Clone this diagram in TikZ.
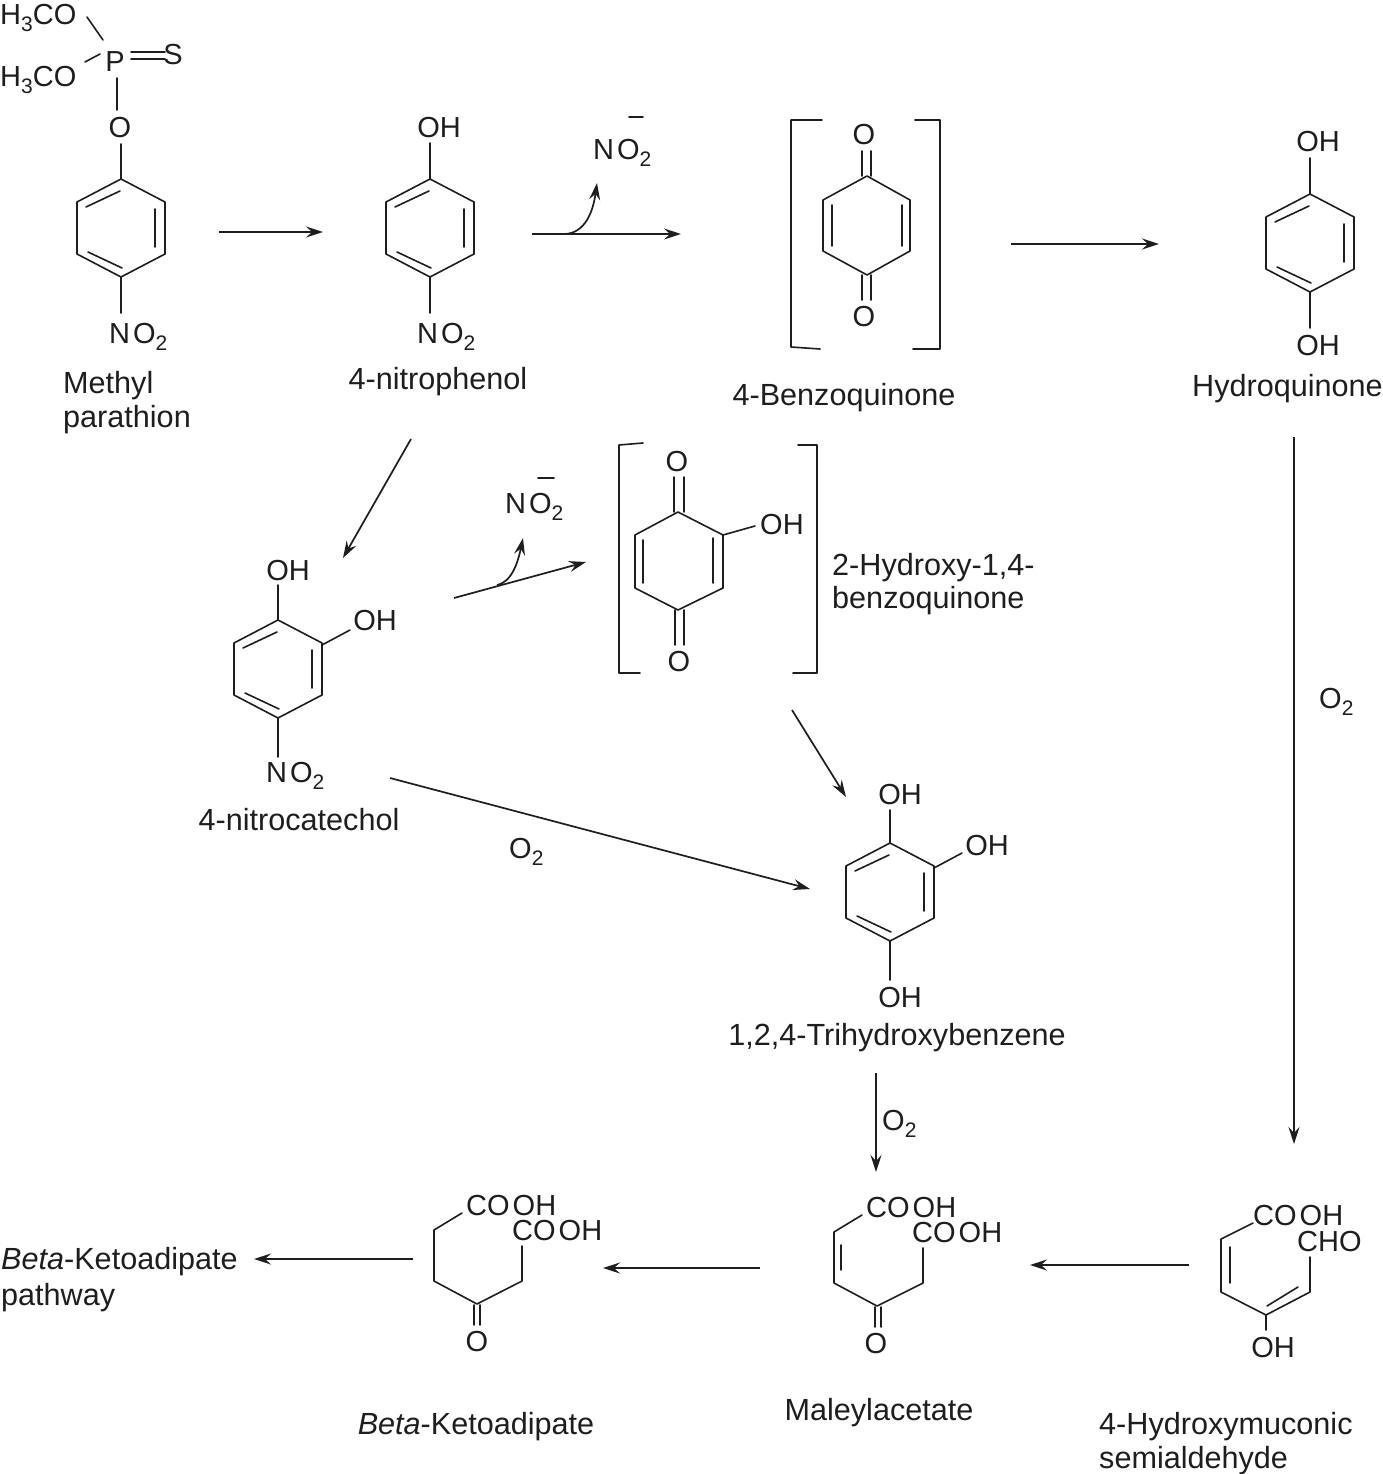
\documentclass[tikz,border=0pt]{standalone}
\usepackage{fontspec}
\setmainfont{Liberation Sans}
\usetikzlibrary{arrows.meta}
\definecolor{ink}{HTML}{1E1E1E}
\newcommand{\subtwo}[1]{\raisebox{-7pt}{\fontsize{21}{21}\selectfont #1}}
\newcommand{\cooh}{CO\kern3pt OH}
\tikzset{
  bond/.style={draw=ink,line width=1.6pt,line cap=round,line join=round},
  rxn/.style={draw=ink,line width=1.7pt,-{Stealth[length=17pt,width=11pt,inset=6pt]}},
  lbl/.style={inner sep=0pt,text=ink,font=\fontsize{29}{29}\selectfont,anchor=base west},
  lblc/.style={lbl,anchor=base},
  cname/.style={lbl,font=\fontsize{30.6}{30.6}\selectfont},
  cnamec/.style={cname,anchor=base},
  benzene/.pic={
    \draw[bond] (0,-49)--(44,-26)--(44,26)--(0,49)--(-44,26)--(-44,-26)--cycle;
    \draw[bond] (-35,-21)--(-1,-37);
    \draw[bond] (34,-19)--(34,19);
    \draw[bond] (-33,24)--(1,40);
  }
}
\begin{document}
\begin{tikzpicture}[x=1pt,y=-1pt]
\useasboundingbox (0,0) rectangle (1382,1474);
\fill[white] (0,0) rectangle (1382,1474);

% --- Methyl parathion
\node[lbl] (mpa) at (0,25) {H\subtwo{3}CO};
\node[lbl] (mpb) at (0,87) {H\subtwo{3}CO};
\node[lblc] (mpP) at (115,72) {P};
\node[lblc] (mpS) at (173,65) {S};
\node[lblc] (mpO) at (120,138) {O};
\draw[bond] (87,17)--(103,40);
\draw[bond] (85,62)--(100,54);
\draw[bond] (131,52)--(165,52);
\draw[bond] (131,59)--(165,59);
\draw[bond] (117,78)--(117,110);
\draw[bond] (121,144)--(121,179);
\pic at (121,228) {benzene};
\draw[bond] (121,277)--(121,313);
\node[lbl] (mpN) at (109,343) {N\kern3pt O\subtwo{2}};
\node[cname] (mpl1) at (63,393) {Methyl};
\node[cname] (mpl2) at (63,427) {parathion};

% --- 4-nitrophenol
\node[lblc] (npOH) at (439,138) {OH};
\draw[bond] (430,143)--(430,179);
\pic at (430,228) {benzene};
\draw[bond] (430,277)--(430,313);
\node[lbl] (npN) at (417,343) {N\kern3pt O\subtwo{2}};
\node[cnamec] (npl) at (438,389) {4-nitrophenol};

% --- nitrite 1
\node[lbl] (no1) at (593,160) {N\kern3pt O\subtwo{2}};
\draw[bond] (629,117)--(643,117);

% --- 4-benzoquinone
\draw[bond] (822,120)--(791,120)--(791,347)--(820,349);
\draw[bond] (915,120)--(940,120)--(940,349)--(913,349);
\node[lblc] (bqO1) at (864,145) {O};
\node[lblc] (bqO2) at (864,326) {O};
\draw[bond] (862,151)--(862,176);
\draw[bond] (871,151)--(871,176);
\draw[bond] (862,275)--(862,300);
\draw[bond] (871,275)--(871,300);
\draw[bond] (867,176)--(910,200)--(910,251)--(867,275)--(823,251)--(823,200)--cycle;
\draw[bond] (832,205)--(832,246);
\draw[bond] (902,205)--(902,246);
\node[cnamec] (bql) at (844,405) {4-Benzoquinone};

% --- hydroquinone
\node[lblc] (hqO1) at (1318,152) {OH};
\draw[bond] (1310,158)--(1310,194);
\pic at (1310,243) {benzene};
\draw[bond] (1310,292)--(1310,328);
\node[lblc] (hqO2) at (1318,355) {OH};
\node[cname] (hql) at (1192,396) {Hydroquinone};

% --- nitrite 2
\node[lbl] (no2) at (505,513) {N\kern3pt O\subtwo{2}};
\draw[bond] (538,478)--(554,478);

% --- 2-hydroxy-1,4-benzoquinone
\draw[bond] (643,443)--(619,445)--(619,673)--(640,673);
\draw[bond] (798,445)--(817,445)--(817,673)--(793,673);
\node[lblc] (hbO1) at (677,471) {O};
\node[lblc] (hbO2) at (679,671) {O};
\draw[bond] (674,477)--(674,512);
\draw[bond] (684,477)--(684,512);
\draw[bond] (675,610)--(675,645);
\draw[bond] (684,610)--(684,645);
\draw[bond] (678,512)--(723,535)--(723,588)--(678,610)--(635,588)--(635,535)--cycle;
\draw[bond] (643,540)--(643,583);
\draw[bond] (713,538)--(713,583);
\draw[bond] (723,535)--(755,526);
\node[lbl] (hbOH) at (760,534) {OH};
\node[cname] (hbl1) at (832,575) {2-Hydroxy-1,4-};
\node[cname] (hbl2) at (832,608) {benzoquinone};

% --- 4-nitrocatechol
\node[lblc] (ncO1) at (288,580) {OH};
\draw[bond] (278,585)--(278,620);
\pic at (278,669) {benzene};
\draw[bond] (322,645)--(350,630);
\node[lblc] (ncO2) at (375,630) {OH};
\draw[bond] (278,718)--(278,757);
\node[lbl] (ncN) at (266,782) {N\kern3pt O\subtwo{2}};
\node[cnamec] (ncl) at (299,830) {4-nitrocatechol};

% --- 1,2,4-trihydroxybenzene
\node[lblc] (thO1) at (900,804) {OH};
\draw[bond] (890,810)--(890,843);
\pic at (890,892) {benzene};
\draw[bond] (934,868)--(962,853);
\node[lblc] (thO2) at (987,855) {OH};
\draw[bond] (890,941)--(890,980);
\node[lblc] (thO3) at (900,1007) {OH};
\node[cnamec] (thl) at (897,1045) {1,2,4-Trihydroxybenzene};

% --- 4-hydroxymuconic semialdehyde
\node[lbl] (hmC) at (1253,1225) {\cooh};
\node[lbl] (hmF) at (1297,1251) {CHO};
\node[lblc] (hmO) at (1273,1357) {OH};
\draw[bond] (1253,1223)--(1221,1239)--(1221,1292)--(1266,1315)--(1310,1292)--(1310,1257);
\draw[bond] (1230,1247)--(1230,1283);
\draw[bond] (1267,1306)--(1298,1287);
\draw[bond] (1266,1315)--(1266,1330);
\node[cname] (hml1) at (1099,1434) {4-Hydroxymuconic};
\node[cname] (hml2) at (1099,1468) {semialdehyde};

% --- maleylacetate
\node[lbl] (maC1) at (866,1217) {\cooh};
\node[lbl] (maC2) at (912,1242) {\cooh};
\node[lblc] (maO) at (876,1353) {O};
\draw[bond] (862,1215)--(834,1232)--(834,1283)--(877,1306)--(923,1283)--(923,1248);
\draw[bond] (841,1245)--(841,1270);
\draw[bond] (875,1307)--(875,1327);
\draw[bond] (881,1307)--(881,1327);
\node[cnamec] (mal) at (879,1420) {Maleylacetate};

% --- beta-ketoadipate
\node[lbl] (bkC1) at (466,1215) {\cooh};
\node[lbl] (bkC2) at (512,1240) {\cooh};
\node[lblc] (bkO) at (477,1351) {O};
\draw[bond] (462,1213)--(434,1230)--(434,1281)--(477,1304)--(522,1281)--(522,1246);
\draw[bond] (474,1305)--(474,1325);
\draw[bond] (480,1305)--(480,1325);
\node[cnamec] (bkl) at (476,1434) {\textit{Beta}-Ketoadipate};

% --- pathway
\node[cname] (pw1) at (1,1269) {\textit{Beta}-Ketoadipate};
\node[cname] (pw2) at (1,1305) {pathway};

% --- reagent labels
\node[lbl] (ox1) at (1319,708) {O\subtwo{2}};
\node[lbl] (ox2) at (509,858) {O\subtwo{2}};
\node[lbl] (ox3) at (882,1130) {O\subtwo{2}};

% --- reaction arrows
\coordinate (a1s) at (219,232);  \coordinate (a1e) at (323,232);
\coordinate (a2s) at (532,234);  \coordinate (a2e) at (681,234);
\coordinate (a2b) at (565,234);  \coordinate (a2f) at (597,183);
\coordinate (a3s) at (1011,244); \coordinate (a3e) at (1159,244);
\coordinate (a4s) at (411,439);  \coordinate (a4e) at (343,558);
\coordinate (a5s) at (454,598);  \coordinate (a5e) at (586,562);
\coordinate (a5b) at (497,585);  \coordinate (a5f) at (523,538);
\coordinate (a6s) at (792,710);  \coordinate (a6e) at (846,797);
\coordinate (a7s) at (390,778);  \coordinate (a7e) at (810,889);
\coordinate (a8s) at (1294,437); \coordinate (a8e) at (1294,1144);
\coordinate (a9s) at (876,1073); \coordinate (a9e) at (876,1172);
\coordinate (a10s) at (1189,1265); \coordinate (a10e) at (1030,1265);
\coordinate (a11s) at (760,1268);  \coordinate (a11e) at (603,1268);
\coordinate (a12s) at (413,1259);  \coordinate (a12e) at (254,1259);
\draw[rxn] (a1s)--(a1e);
\draw[rxn] (a2s)--(a2e);
\draw[rxn] (a2b) .. controls (585,233) and (593,212) .. (a2f);
\draw[rxn] (a3s)--(a3e);
\draw[rxn] (a4s)--(a4e);
\draw[rxn] (a5s)--(a5e);
\draw[rxn] (a5b) .. controls (512,582) and (518,562) .. (a5f);
\draw[rxn] (a6s)--(a6e);
\draw[rxn] (a7s)--(a7e);
\draw[rxn] (a8s)--(a8e);
\draw[rxn] (a9s)--(a9e);
\draw[rxn] (a10s)--(a10e);
\draw[rxn] (a11s)--(a11e);
\draw[rxn] (a12s)--(a12e);
\end{tikzpicture}
\end{document}
